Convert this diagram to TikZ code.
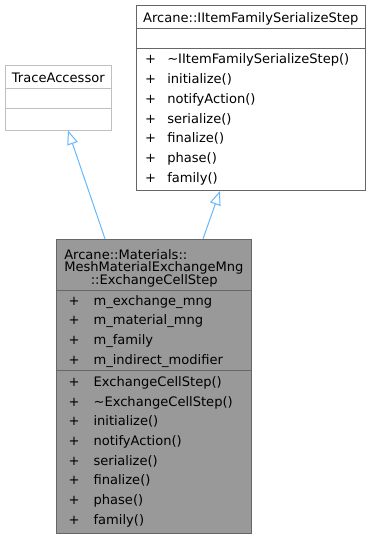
\documentclass[tikz,border=0pt]{standalone}
\usepackage{fontspec}
\setmainfont{DejaVu Sans}
\usetikzlibrary{arrows.meta,fit,calc}

\definecolor{edgeblue}{HTML}{63B8FF}
\definecolor{darkline}{HTML}{666666}
\definecolor{lightline}{HTML}{BFBFBF}
\definecolor{classfill}{HTML}{999999}

\begin{document}
\begin{tikzpicture}[x=0.75pt, y=-0.75pt, font=\fontsize{9.8}{9.4}\selectfont]
\tikzstyle{class} = [draw=darkline, line width=0.75pt, fill=white, inner sep=0pt]
\tikzstyle{rule} = [draw=darkline, line width=0.75pt]
\tikzstyle{member} = [anchor=base west, inner sep=0pt]
\tikzstyle{plus} = [anchor=base, inner sep=0pt]
\tikzstyle{edge} = [draw=edgeblue, line width=0.75pt, -{Triangle[open, fill=white, length=10.5pt, width=8.25pt]}]

\useasboundingbox (0,0) rectangle (371,539);

% base classes
\node[class, draw=lightline, fit={(5,65) (111.7,130)}] (trace) {};
\node[plus] (traceName) at (58.3,82.3) {TraceAccessor};
\draw[rule, draw=lightline] (5,88) -- (111.7,88);
\draw[rule, draw=lightline] (5,108) -- (111.7,108);

\node[class, fit={(136,5) (365.3,190.5)}] (step) {};
\node[plus] (stepName) at (250.7,22.7) {Arcane::IItemFamilySerializeStep};
\draw[rule] (136,28.3) -- (365.3,28.3);
\draw[rule] (136,48.3) -- (365.3,48.3);
\foreach \name [count=\i from 0] in {\textasciitilde IItemFamilySerializeStep(), initialize(), notifyAction(), serialize(), finalize(), phase(), family()} {
  \node[plus] (stepPlus\i) at (150.7,{63.3+19.9*\i}) {+};
  \node[member] (stepOp\i) at (167,{63.3+19.9*\i}) {\name};
}

% derived class
\node[class, fill=classfill, fit={(56.7,239.3) (251.7,533.8)}] (cell) {};
\node[member] (cellName1) at (64,259.3) {Arcane::Materials::};
\node[member] (cellName2) at (64,271.7) {MeshMaterialExchangeMng};
\node[plus] (cellName3) at (154.2,284.3) {::ExchangeCellStep};
\draw[rule] (56.7,290.7) -- (251.7,290.7);
\draw[rule] (56.7,370.7) -- (251.7,370.7);
\foreach \name [count=\i from 0] in {m\_exchange\_mng, m\_material\_mng, m\_family, m\_indirect\_modifier} {
  \node[plus] (cellPlus\i) at (74,{305+19.7*\i}) {+};
  \node[member] (cellAttr\i) at (93.3,{305+19.7*\i}) {\name};
}
\foreach \name [count=\i from 0] in {ExchangeCellStep(), \textasciitilde ExchangeCellStep(), initialize(), notifyAction(), serialize(), finalize(), phase(), family()} {
  \node[plus] (cellOpPlus\i) at (74,{386.3+19.7*\i}) {+};
  \node[member] (cellOp\i) at (93.3,{386.3+19.7*\i}) {\name};
}

\draw[edge] ($(cell.north)+(-49.2,0)$) to ($(trace.south)+(9.7,0)$);
\draw[edge] ($(cell.north)+(48.8,0)$) to ($(step.south)+(-30.7,0)$);
\end{tikzpicture}
\end{document}
